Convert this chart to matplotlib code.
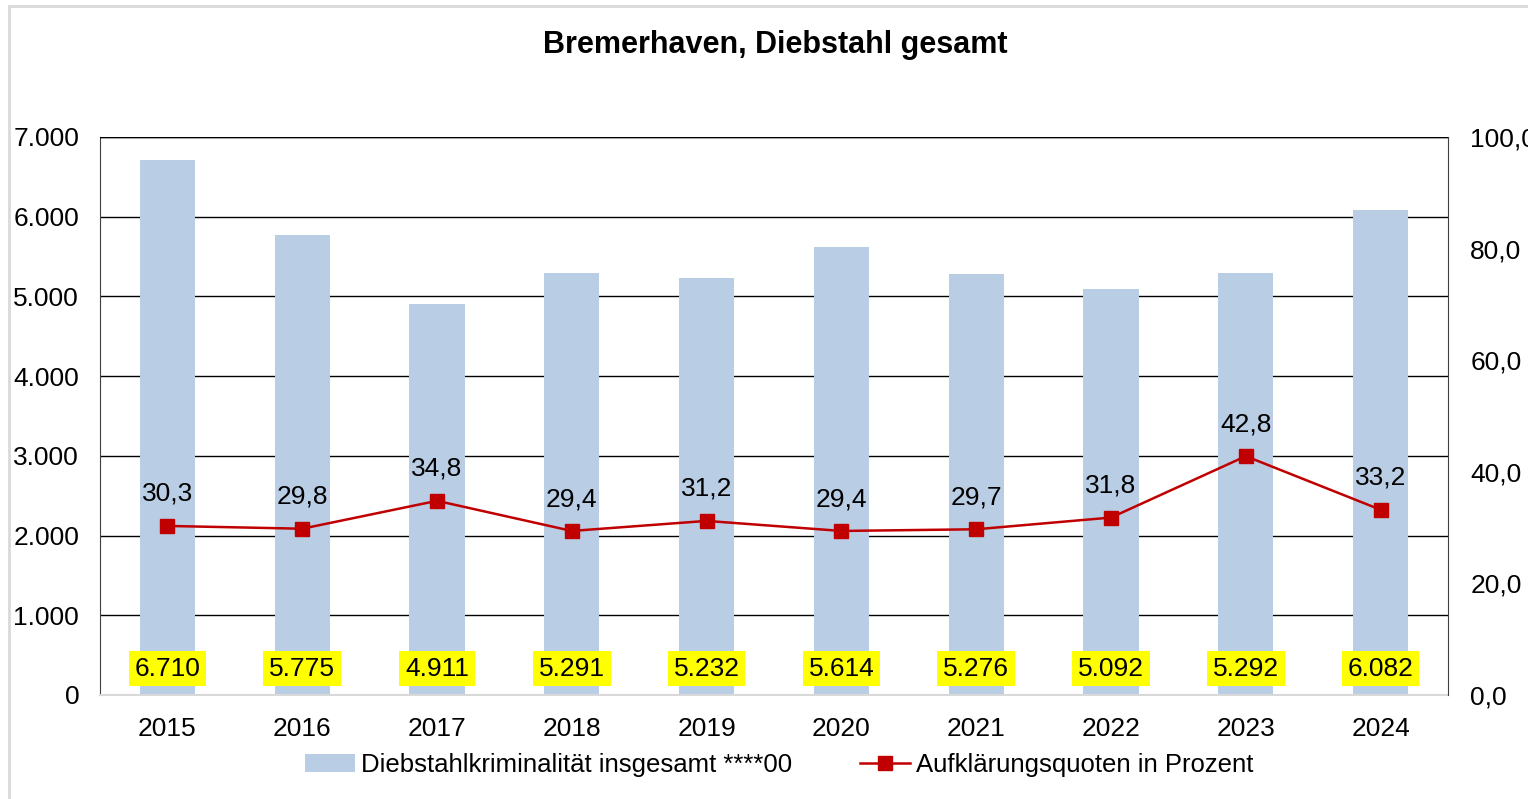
import matplotlib
matplotlib.use("Agg")
import matplotlib.pyplot as plt
from matplotlib.patches import Rectangle
from matplotlib.ticker import FuncFormatter, MultipleLocator

plt.rcParams['font.family'] = ['Liberation Sans', 'DejaVu Sans']

years = ['2015', '2016', '2017', '2018', '2019', '2020', '2021', '2022', '2023', '2024']
thefts = [6710, 5775, 4911, 5291, 5232, 5614, 5276, 5092, 5292, 6082]
clearance = [30.3, 29.8, 34.8, 29.4, 31.2, 29.4, 29.7, 31.8, 42.8, 33.2]

title = 'Bremerhaven, Diebstahl gesamt'
bar_label = 'Diebstahlkriminalität insgesamt ****00'
line_label = 'Aufklärungsquoten in Prozent'

bar_color = '#B9CDE5'
line_color = '#C00000'

def de_thousands(v):
    return f"{int(round(v)):,}".replace(',', '.')

def de_dec(v):
    return f"{v:.1f}".replace('.', ',')

W, H = 1528, 799
FS = 19
fig = plt.figure(figsize=(W/100, H/100), dpi=100)
fig.patches.append(Rectangle((9/W, -0.05), 1.2, 1 - 6/H + 0.05, transform=fig.transFigure,
                             fill=False, edgecolor='#D9D9D9', linewidth=2))

ax = fig.add_axes([100/W, (H-695)/H, 1348/W, 558/H])
x = list(range(len(years)))
ax.bar(x, thefts, width=0.41, color=bar_color, zorder=2, label=bar_label)
ax.set_xlim(-0.5, len(years) - 0.5)
ax.set_ylim(0, 7000)
ax.yaxis.set_major_locator(MultipleLocator(1000))
ax.yaxis.set_major_formatter(FuncFormatter(lambda v, p: de_thousands(v)))
ax.grid(axis='y', color='black', linewidth=1, zorder=1)
ax.set_axisbelow(True)
ax.set_xticks(x)
ax.set_xticklabels(years)
ax.tick_params(axis='x', length=0, pad=16, labelsize=FS)
ax.tick_params(axis='y', length=0, pad=15, labelsize=FS)
for s in ['top', 'right']:
    ax.spines[s].set_visible(False)
ax.spines['left'].set_color('#404040')
ax.spines['bottom'].set_color('#D9D9D9')
ax.spines['bottom'].set_linewidth(1.5)

for xi, v in zip(x, thefts):
    ax.annotate(de_thousands(v), (xi, 0), xytext=(0, 19), textcoords='offset points',
                ha='center', va='center', fontsize=FS, zorder=5,
                bbox=dict(boxstyle='square,pad=0.22', facecolor='yellow', edgecolor='none'))

ax2 = ax.twinx()
ax2.plot(x, clearance, color=line_color, linewidth=1.8, marker='s', markersize=9.5,
         zorder=4, label=line_label)
ax2.set_ylim(0, 100)
ax2.yaxis.set_major_locator(MultipleLocator(20))
ax2.yaxis.set_major_formatter(FuncFormatter(lambda v, p: de_dec(v)))
ax2.tick_params(axis='y', length=0, pad=16, labelsize=FS)
for s in ['top', 'left', 'bottom']:
    ax2.spines[s].set_visible(False)
ax2.spines['right'].set_color('#404040')
ax2.axhline(100, color='black', linewidth=1)

for xi, v in zip(x, clearance):
    ax2.annotate(de_dec(v), (xi, v), xytext=(0, 23), textcoords='offset points',
                 ha='center', va='center', fontsize=FS)

fig.text(775/W, 1 - 45/H, title, ha='center', va='center', fontsize=22, fontweight='bold')

h1, l1 = ax.get_legend_handles_labels()
h2, l2 = ax2.get_legend_handles_labels()
fig.legend(h1 + h2, l1 + l2, loc='center', bbox_to_anchor=(779/W, 1 - 765/H), ncol=2,
           frameon=False, fontsize=18.5, handlelength=1.95, handletextpad=0.23,
           columnspacing=2.65, borderpad=0, borderaxespad=0)

fig.savefig('out.png', dpi=100)
